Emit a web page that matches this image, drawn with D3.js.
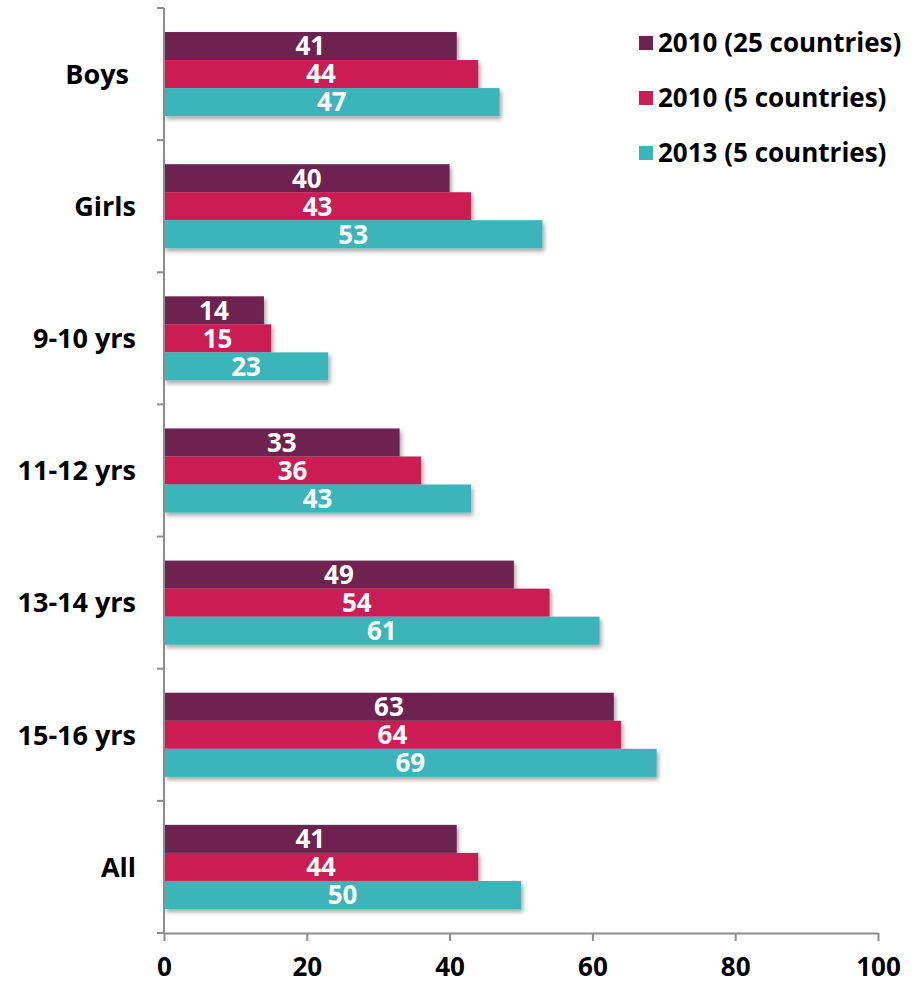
<!DOCTYPE html>
<html>
<head>
<meta charset="utf-8">
<title>Grouped bars</title>
<script src="https://d3js.org/d3.v7.min.js"></script>
<style>
  body { margin: 0; background: #fff; }
  text { font-family: "Open Sans", "DejaVu Sans", sans-serif; font-weight: 700; }
</style>
</head>
<body>
<script>
// data
const categories = ["Boys ", "Girls", "9-10 yrs", "11-12 yrs", "13-14 yrs", "15-16 yrs", "All"];
const seriesNames = ["2010 (25 countries)", "2010 (5 countries)", "2013 (5 countries)"];
const s2010_25 = [41, 40, 14, 33, 49, 63, 41];
const s2010_5 = [44, 43, 15, 36, 54, 64, 44];
const s2013_5 = [47, 53, 23, 43, 61, 69, 50];
const xTicks = [0, 20, 40, 60, 80, 100];
const colors = ["#6d2350", "#cc1e56", "#3bb4ba"];

const series = [s2010_25, s2010_5, s2013_5];

var W = 914, H = 985;
var m = {top: 8, left: 164, right: 36, bottom: 52};

var svg = d3.select("body").append("svg")
  .attr("width", W).attr("height", H);

var defs = svg.append("defs");
var f = defs.append("filter").attr("id", "shadow")
  .attr("x", "-5%").attr("y", "-20%").attr("width", "115%").attr("height", "160%");
f.append("feDropShadow").attr("dx", 2).attr("dy", 3).attr("stdDeviation", 2)
  .attr("flood-color", "#000").attr("flood-opacity", 0.35);

var x = d3.scaleLinear().domain([0, 100]).range([m.left, W - m.right]);
var y = d3.scaleBand().domain(categories).range([m.top, H - m.bottom]).paddingInner(0).paddingOuter(0);
var inner = d3.scaleBand().domain(d3.range(series.length))
  .range([0, y.bandwidth()]).paddingOuter(0.857).paddingInner(0);

// bars
categories.forEach(function(c, i) {
  var g = svg.append("g").attr("filter", "url(#shadow)");
  series.forEach(function(s, j) {
    g.append("rect")
      .attr("x", x(0))
      .attr("y", y(c) + inner(j))
      .attr("width", x(s[i]) - x(0))
      .attr("height", inner.bandwidth())
      .attr("fill", colors[j]);
  });
  series.forEach(function(s, j) {
    svg.append("text")
      .attr("x", (x(0) + x(s[i])) / 2)
      .attr("y", y(c) + inner(j) + inner.bandwidth() / 2)
      .attr("dy", "0.36em")
      .attr("text-anchor", "middle")
      .attr("fill", "#fff")
      .style("font-size", "26px")
      .text(s[i]);
  });
});

// y axis
var yAxis = svg.append("g").attr("transform", "translate(" + x(0) + ",0)");
yAxis.append("line")
  .attr("x1", 0).attr("x2", 0)
  .attr("y1", m.top).attr("y2", H - m.bottom)
  .attr("stroke", "#8c8c8c").attr("stroke-width", 2);
var bounds = categories.map(function(c) { return y(c); }).concat([H - m.bottom]);
yAxis.selectAll(".yt").data(bounds).enter().append("line")
  .attr("x1", -7).attr("x2", 0)
  .attr("y1", function(d) { return d; }).attr("y2", function(d) { return d; })
  .attr("stroke", "#8c8c8c").attr("stroke-width", 2);
yAxis.selectAll(".yl").data(categories).enter().append("text")
  .attr("x", -28)
  .attr("y", function(d) { return y(d) + y.bandwidth() / 2; })
  .attr("dy", "0.36em")
  .attr("text-anchor", "end")
  .attr("fill", "#000")
  .style("font-size", "27px")
  .style("white-space", "pre")
  .text(function(d) { return d; });

// x axis
var xAxis = svg.append("g")
  .attr("transform", "translate(0," + (H - m.bottom) + ")")
  .call(d3.axisBottom(x).tickValues(xTicks).tickSize(8).tickPadding(12).tickSizeOuter(0));
xAxis.select(".domain").attr("stroke", "#8c8c8c").attr("stroke-width", 2);
xAxis.selectAll(".tick line").attr("stroke", "#8c8c8c").attr("stroke-width", 2);
xAxis.selectAll(".tick text")
  .attr("fill", "#000")
  .attr("dy", "0.9em")
  .style("font-size", "26px")
  .style("font-family", "'Open Sans', sans-serif")
  .style("font-weight", "700");

// legend
var leg = svg.append("g").attr("transform", "translate(639,43)");
seriesNames.forEach(function(n, j) {
  var r = leg.append("g").attr("transform", "translate(0," + (j * 55) + ")");
  r.append("rect").attr("x", 0).attr("y", -7).attr("width", 14).attr("height", 14)
    .attr("fill", colors[j]);
  r.append("text").attr("x", 19).attr("y", 0).attr("dy", "0.36em")
    .attr("fill", "#000")
    .style("font-size", "26px")
    .text(n);
});
</script>
</body>
</html>
